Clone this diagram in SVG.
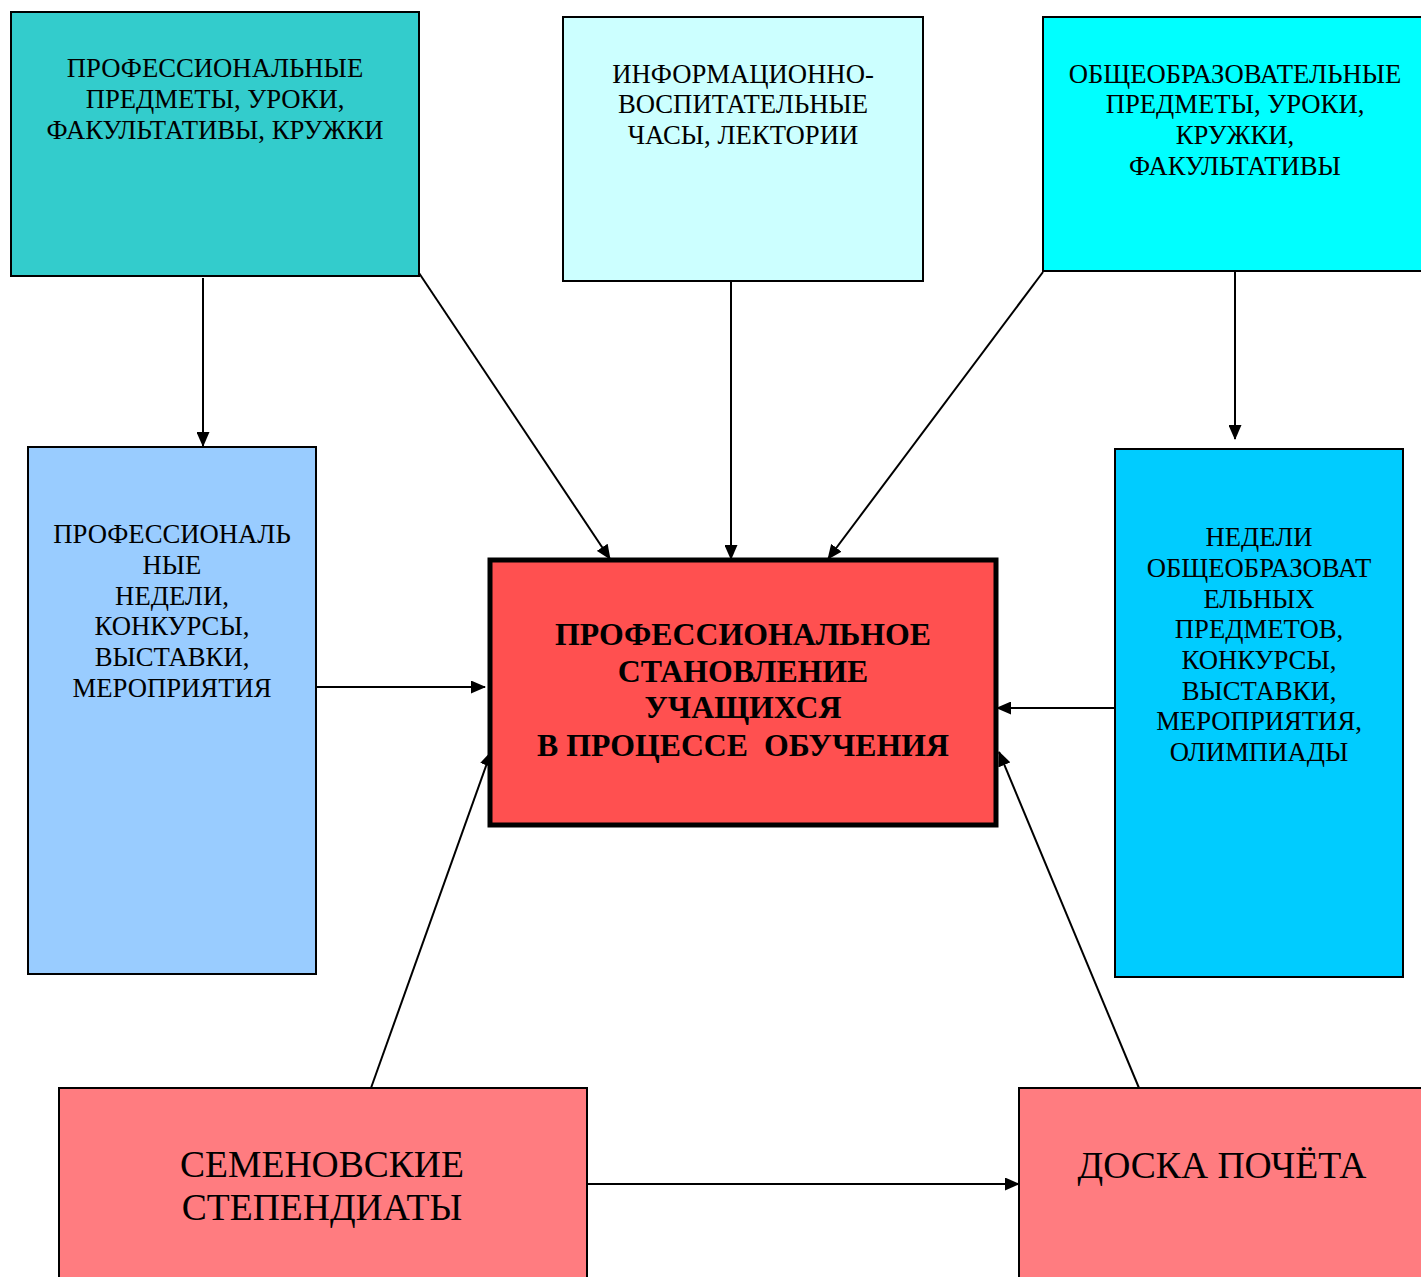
<svg xmlns="http://www.w3.org/2000/svg" width="1421" height="1277" viewBox="0 0 1421 1277">
<defs>
<marker id="ah" markerWidth="15" markerHeight="13" refX="14" refY="6.5" orient="auto" markerUnits="userSpaceOnUse">
<path d="M0,0 L15,6.5 L0,13 Z" fill="#000"/>
</marker>
<style>
.box{stroke:#000;stroke-width:2}
.t{font-family:"Liberation Serif","Times New Roman",serif;font-size:26.7px;fill:#000;text-anchor:middle}
.tb{font-family:"Liberation Serif","Times New Roman",serif;font-size:31.8px;font-weight:bold;fill:#000;text-anchor:middle}
.tl{font-family:"Liberation Serif","Times New Roman",serif;font-size:37.6px;fill:#000;text-anchor:middle}
.c{stroke:#000;stroke-width:2;fill:none;marker-end:url(#ah)}
</style>
</defs>
<rect width="1421" height="1277" fill="#fff"/>
<g id="connectors">
<line class="c" x1="203" y1="278" x2="203" y2="446"/>
<line class="c" x1="419" y1="273" x2="610" y2="559"/>
<line class="c" x1="731" y1="279" x2="731" y2="559"/>
<line class="c" x1="1043" y1="272" x2="828" y2="559"/>
<line class="c" x1="1235" y1="272" x2="1235" y2="439"/>
<line class="c" x1="316" y1="687" x2="485" y2="687"/>
<line class="c" x1="1115" y1="708" x2="997" y2="708"/>
<line class="c" x1="371" y1="1088" x2="491" y2="752"/>
<line class="c" x1="1139" y1="1088" x2="999" y2="752"/>
<line class="c" x1="587" y1="1184" x2="1019" y2="1184"/>
</g>
<g id="n1">
<rect class="box" x="11" y="12" width="408" height="264" fill="#33CCCC"/>
<text class="t" x="215" y="77">ПРОФЕССИОНАЛЬНЫЕ</text>
<text class="t" x="215" y="108">ПРЕДМЕТЫ, УРОКИ,</text>
<text class="t" x="215" y="139">ФАКУЛЬТАТИВЫ, КРУЖКИ</text>
</g>
<g id="n2">
<rect class="box" x="563" y="17" width="360" height="264" fill="#CCFFFF"/>
<text class="t" x="743" y="83">ИНФОРМАЦИОННО-</text>
<text class="t" x="743" y="113">ВОСПИТАТЕЛЬНЫЕ</text>
<text class="t" x="743" y="144">ЧАСЫ, ЛЕКТОРИИ</text>
</g>
<g id="n3">
<rect class="box" x="1043" y="17" width="390" height="254" fill="#00FFFF"/>
<text class="t" x="1235" y="83">ОБЩЕОБРАЗОВАТЕЛЬНЫЕ</text>
<text class="t" x="1235" y="113">ПРЕДМЕТЫ, УРОКИ,</text>
<text class="t" x="1235" y="144">КРУЖКИ,</text>
<text class="t" x="1235" y="175">ФАКУЛЬТАТИВЫ</text>
</g>
<g id="n4">
<rect class="box" x="28" y="447" width="288" height="527" fill="#99CCFF"/>
<text class="t" x="172" y="543">ПРОФЕССИОНАЛЬ</text>
<text class="t" x="172" y="574">НЫЕ</text>
<text class="t" x="172" y="605">НЕДЕЛИ,</text>
<text class="t" x="172" y="635">КОНКУРСЫ,</text>
<text class="t" x="172" y="666">ВЫСТАВКИ,</text>
<text class="t" x="172" y="697">МЕРОПРИЯТИЯ</text>
</g>
<g id="n5">
<rect x="490" y="560" width="506" height="265" fill="#FF5050" stroke="#000" stroke-width="5"/>
<text class="tb" x="743" y="645">ПРОФЕССИОНАЛЬНОЕ</text>
<text class="tb" x="743" y="682">СТАНОВЛЕНИЕ</text>
<text class="tb" x="743" y="718">УЧАЩИХСЯ</text>
<text class="tb" x="743" y="756" xml:space="preserve">В ПРОЦЕССЕ  ОБУЧЕНИЯ</text>
</g>
<g id="n6">
<rect class="box" x="1115" y="449" width="288" height="528" fill="#00CCFF"/>
<text class="t" x="1259" y="546">НЕДЕЛИ</text>
<text class="t" x="1259" y="577">ОБЩЕОБРАЗОВАТ</text>
<text class="t" x="1259" y="608">ЕЛЬНЫХ</text>
<text class="t" x="1259" y="638">ПРЕДМЕТОВ,</text>
<text class="t" x="1259" y="669">КОНКУРСЫ,</text>
<text class="t" x="1259" y="700">ВЫСТАВКИ,</text>
<text class="t" x="1259" y="730">МЕРОПРИЯТИЯ,</text>
<text class="t" x="1259" y="761">ОЛИМПИАДЫ</text>
</g>
<g id="n7">
<rect class="box" x="59" y="1088" width="528" height="200" fill="#FF7C80"/>
<text class="tl" x="322" y="1177">СЕМЕНОВСКИЕ</text>
<text class="tl" x="322" y="1220">СТЕПЕНДИАТЫ</text>
</g>
<g id="n8">
<rect class="box" x="1019" y="1088" width="412" height="200" fill="#FF7C80"/>
<text class="tl" x="1222" y="1178">ДОСКА ПОЧЁТА</text>
</g>
</svg>
